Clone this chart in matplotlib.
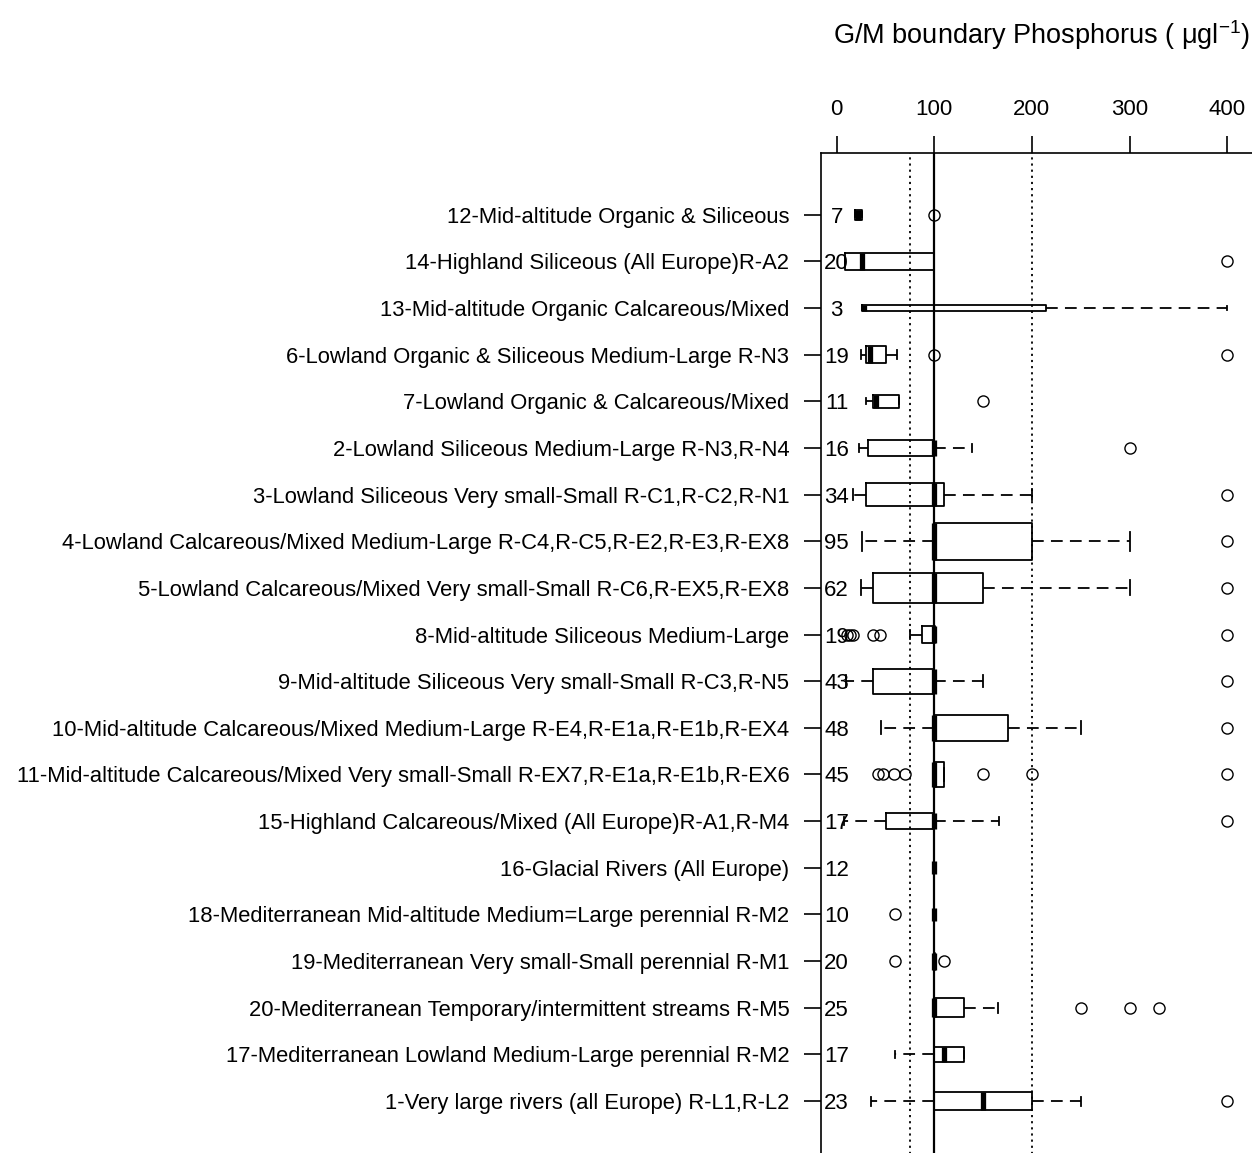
import numpy as np
import matplotlib.pyplot as plt

plt.rcParams['font.family'] = ['Liberation Sans', 'DejaVu Sans']
plt.rcParams['mathtext.fontset'] = 'custom'
plt.rcParams['mathtext.rm'] = 'Liberation Sans'
plt.rcParams['mathtext.it'] = 'Liberation Sans'

# river types, top to bottom
labels = [
    "12-Mid-altitude Organic & Siliceous",
    "14-Highland Siliceous (All Europe)R-A2",
    "13-Mid-altitude Organic Calcareous/Mixed",
    "6-Lowland Organic & Siliceous Medium-Large R-N3",
    "7-Lowland Organic & Calcareous/Mixed",
    "2-Lowland Siliceous Medium-Large R-N3,R-N4",
    "3-Lowland Siliceous Very small-Small R-C1,R-C2,R-N1",
    "4-Lowland Calcareous/Mixed Medium-Large R-C4,R-C5,R-E2,R-E3,R-EX8",
    "5-Lowland Calcareous/Mixed Very small-Small R-C6,R-EX5,R-EX8",
    "8-Mid-altitude Siliceous Medium-Large",
    "9-Mid-altitude Siliceous Very small-Small R-C3,R-N5",
    "10-Mid-altitude Calcareous/Mixed Medium-Large R-E4,R-E1a,R-E1b,R-EX4",
    "11-Mid-altitude Calcareous/Mixed Very small-Small R-EX7,R-E1a,R-E1b,R-EX6",
    "15-Highland Calcareous/Mixed (All Europe)R-A1,R-M4",
    "16-Glacial Rivers (All Europe)",
    "18-Mediterranean Mid-altitude Medium=Large perennial R-M2",
    "19-Mediterranean Very small-Small perennial R-M1",
    "20-Mediterranean Temporary/intermittent streams R-M5",
    "17-Mediterranean Lowland Medium-Large perennial R-M2",
    "1-Very large rivers (all Europe) R-L1,R-L2",
]
counts = [7, 20, 3, 19, 11, 16, 34, 95, 62, 19, 43, 48, 45, 17, 12, 10, 20, 25, 17, 23]

whislo = [19, 9, 26, 25, 30, 23, 17, 26, 25, 75, 10, 45, 100, 7, 100, 100, 100, 100, 60, 35]
q1 = [19, 9, 26, 30, 37, 32, 30, 100, 37, 87, 37, 100, 100, 51, 100, 100, 100, 100, 100, 100]
med = [22, 26, 28, 34, 40, 100, 100, 100, 100, 100, 100, 100, 100, 100, 100, 100, 100, 100, 110, 150]
q3 = [26, 100, 214, 51, 64, 100, 110, 200, 150, 101, 100, 175, 110, 100, 100, 100, 101, 130, 130, 200]
whishi = [26, 100, 400, 62, 64, 139, 200, 300, 300, 101, 150, 250, 110, 166, 100, 100, 101, 165, 130, 250]
fliers = [
    [100], [400], [], [100, 400], [150], [300], [400], [400], [400],
    [11, 14, 17, 37, 44, 400], [400], [400], [42, 47, 59, 70, 150, 200, 400],
    [400], [], [60], [60, 110], [250, 300, 330], [], [400],
]

xticks = [0, 100, 200, 300, 400]
ref_lines = [75, 200]
boundary = 100

stats = []
for i in range(len(labels)):
    stats.append(dict(whislo=whislo[i], q1=q1[i], med=med[i], q3=q3[i],
                      whishi=whishi[i], fliers=fliers[i]))

pos = np.arange(1, len(labels) + 1)
widths = 0.8 * np.sqrt(np.array(counts) / max(counts))

fig = plt.figure(figsize=(12.52, 11.53), dpi=100)
ax = fig.add_axes([0.6555, -0.0076, 0.3452, 0.8753])

for v in ref_lines:
    ax.axvline(v, color='black', lw=1.3, ls=(0, (1.2, 2.2)), zorder=1)
ax.axvline(boundary, color='black', lw=1.6, zorder=1)

ax.bxp(stats, positions=pos, widths=widths, capwidths=widths * 0.5,
       orientation='horizontal', showfliers=True,
       boxprops=dict(color='black', lw=1.3),
       medianprops=dict(color='black', lw=3.8, solid_capstyle='butt'),
       whiskerprops=dict(color='black', lw=1.3, ls=(0, (6.5, 4))),
       capprops=dict(color='black', lw=1.3),
       flierprops=dict(marker='o', markerfacecolor='none',
                       markeredgecolor='black', markersize=8,
                       markeredgewidth=1.0))

for p, n in zip(pos, counts):
    ax.text(0, p, str(n), ha='center', va='center_baseline', fontsize=16)

ax.set_xlim(-16.4, 426.4)
ax.set_ylim(21.3, -0.33)

ax.set_yticks(pos)
ax.set_yticklabels(labels, fontsize=15.8)
ax.tick_params(axis='y', length=12, width=1.2, pad=10.5)

ax.xaxis.tick_top()
ax.set_xticks(xticks)
ax.set_xticklabels([str(t) for t in xticks], fontsize=16)
ax.tick_params(axis='x', length=12, width=1.2, pad=11.5)

for s in ax.spines.values():
    s.set_linewidth(1.2)

fig.text(1042 / 1252, 1 - 35 / 1153,
         r'G/M boundary Phosphorus ( $\mu$gl$^{-1}$)',
         ha='center', va='center', fontsize=19.5)

fig.savefig('out.png', dpi=100)
